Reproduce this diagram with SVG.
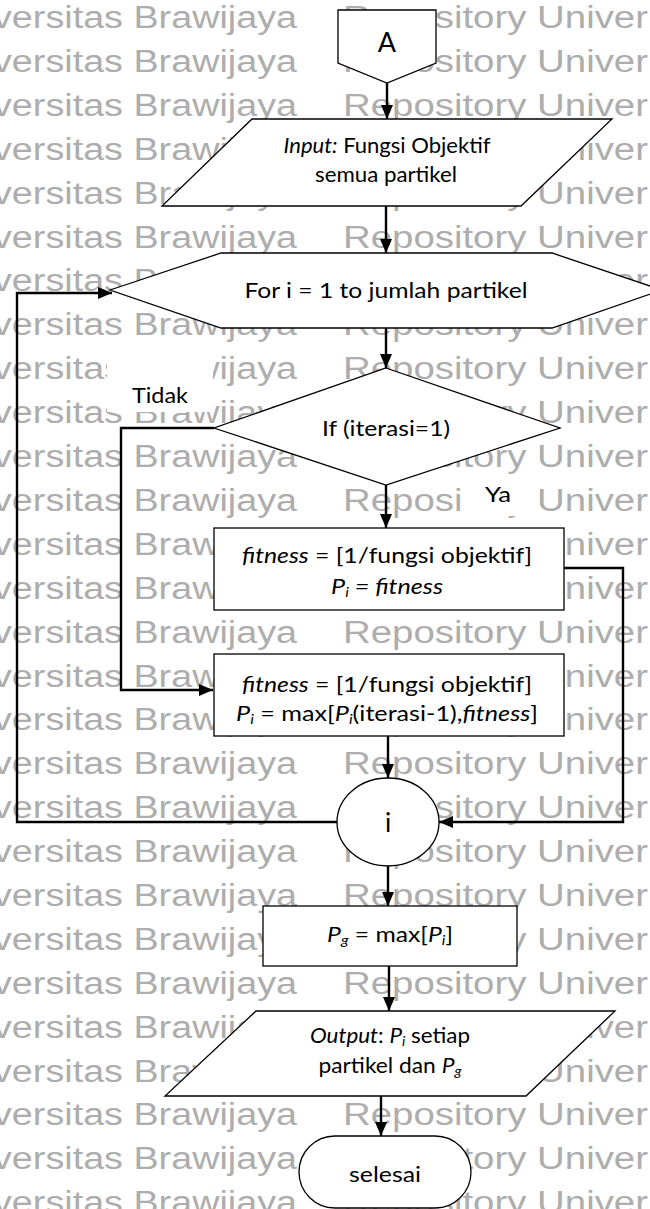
<svg xmlns="http://www.w3.org/2000/svg" width="650" height="1209" viewBox="0 0 650 1209">
  <defs>
    <marker id="arrow" markerUnits="userSpaceOnUse" markerWidth="14" markerHeight="12" viewBox="0 0 14 12" refX="14" refY="6" orient="auto">
      <path d="M0,0 L14,6 L0,12 z" fill="#000"/>
    </marker>
    <style>
      .wm { font-family: "Liberation Sans", Arial, sans-serif; font-size: 31px; fill: #adadad; }
      .shape { fill: #fff; stroke: #000; stroke-width: 1.3; }
      .lbl { font-family: Lato, "Open Sans", sans-serif; font-size: 22px; fill: #000; text-anchor: middle; }
      .it { font-style: italic; }
      .sub { font-size: 14px; }
      .conn { fill: none; stroke: #000; stroke-width: 2.4; }
      .bg { fill: #fff; }
    </style>
  </defs>

  <rect width="650" height="1209" fill="#fff"/>

  <!-- repeated background watermark rows -->
  <g id="watermark">
    <text class="wm" x="-7" y="28" textLength="304" lengthAdjust="spacingAndGlyphs">versitas Brawijaya</text><text class="wm" x="343" y="28" textLength="305" lengthAdjust="spacingAndGlyphs">Repository Univer</text>
    <text class="wm" x="-7" y="72" textLength="304" lengthAdjust="spacingAndGlyphs">versitas Brawijaya</text><text class="wm" x="343" y="72" textLength="305" lengthAdjust="spacingAndGlyphs">Repository Univer</text>
    <text class="wm" x="-7" y="116" textLength="304" lengthAdjust="spacingAndGlyphs">versitas Brawijaya</text><text class="wm" x="343" y="116" textLength="305" lengthAdjust="spacingAndGlyphs">Repository Univer</text>
    <text class="wm" x="-7" y="160" textLength="304" lengthAdjust="spacingAndGlyphs">versitas Brawijaya</text><text class="wm" x="343" y="160" textLength="305" lengthAdjust="spacingAndGlyphs">Repository Univer</text>
    <text class="wm" x="-7" y="204" textLength="304" lengthAdjust="spacingAndGlyphs">versitas Brawijaya</text><text class="wm" x="343" y="204" textLength="305" lengthAdjust="spacingAndGlyphs">Repository Univer</text>
    <text class="wm" x="-7" y="248" textLength="304" lengthAdjust="spacingAndGlyphs">versitas Brawijaya</text><text class="wm" x="343" y="248" textLength="305" lengthAdjust="spacingAndGlyphs">Repository Univer</text>
    <text class="wm" x="-7" y="291" textLength="304" lengthAdjust="spacingAndGlyphs">versitas Brawijaya</text><text class="wm" x="343" y="291" textLength="305" lengthAdjust="spacingAndGlyphs">Repository Univer</text>
    <text class="wm" x="-7" y="335" textLength="304" lengthAdjust="spacingAndGlyphs">versitas Brawijaya</text><text class="wm" x="343" y="335" textLength="305" lengthAdjust="spacingAndGlyphs">Repository Univer</text>
    <text class="wm" x="-7" y="379" textLength="304" lengthAdjust="spacingAndGlyphs">versitas Brawijaya</text><text class="wm" x="343" y="379" textLength="305" lengthAdjust="spacingAndGlyphs">Repository Univer</text>
    <text class="wm" x="-7" y="423" textLength="304" lengthAdjust="spacingAndGlyphs">versitas Brawijaya</text><text class="wm" x="343" y="423" textLength="305" lengthAdjust="spacingAndGlyphs">Repository Univer</text>
    <text class="wm" x="-7" y="467" textLength="304" lengthAdjust="spacingAndGlyphs">versitas Brawijaya</text><text class="wm" x="343" y="467" textLength="305" lengthAdjust="spacingAndGlyphs">Repository Univer</text>
    <text class="wm" x="-7" y="511" textLength="304" lengthAdjust="spacingAndGlyphs">versitas Brawijaya</text><text class="wm" x="343" y="511" textLength="305" lengthAdjust="spacingAndGlyphs">Repository Univer</text>
    <text class="wm" x="-7" y="555" textLength="304" lengthAdjust="spacingAndGlyphs">versitas Brawijaya</text><text class="wm" x="343" y="555" textLength="305" lengthAdjust="spacingAndGlyphs">Repository Univer</text>
    <text class="wm" x="-7" y="599" textLength="304" lengthAdjust="spacingAndGlyphs">versitas Brawijaya</text><text class="wm" x="343" y="599" textLength="305" lengthAdjust="spacingAndGlyphs">Repository Univer</text>
    <text class="wm" x="-7" y="643" textLength="304" lengthAdjust="spacingAndGlyphs">versitas Brawijaya</text><text class="wm" x="343" y="643" textLength="305" lengthAdjust="spacingAndGlyphs">Repository Univer</text>
    <text class="wm" x="-7" y="687" textLength="304" lengthAdjust="spacingAndGlyphs">versitas Brawijaya</text><text class="wm" x="343" y="687" textLength="305" lengthAdjust="spacingAndGlyphs">Repository Univer</text>
    <text class="wm" x="-7" y="730" textLength="304" lengthAdjust="spacingAndGlyphs">versitas Brawijaya</text><text class="wm" x="343" y="730" textLength="305" lengthAdjust="spacingAndGlyphs">Repository Univer</text>
    <text class="wm" x="-7" y="774" textLength="304" lengthAdjust="spacingAndGlyphs">versitas Brawijaya</text><text class="wm" x="343" y="774" textLength="305" lengthAdjust="spacingAndGlyphs">Repository Univer</text>
    <text class="wm" x="-7" y="818" textLength="304" lengthAdjust="spacingAndGlyphs">versitas Brawijaya</text><text class="wm" x="343" y="818" textLength="305" lengthAdjust="spacingAndGlyphs">Repository Univer</text>
    <text class="wm" x="-7" y="862" textLength="304" lengthAdjust="spacingAndGlyphs">versitas Brawijaya</text><text class="wm" x="343" y="862" textLength="305" lengthAdjust="spacingAndGlyphs">Repository Univer</text>
    <text class="wm" x="-7" y="906" textLength="304" lengthAdjust="spacingAndGlyphs">versitas Brawijaya</text><text class="wm" x="343" y="906" textLength="305" lengthAdjust="spacingAndGlyphs">Repository Univer</text>
    <text class="wm" x="-7" y="950" textLength="304" lengthAdjust="spacingAndGlyphs">versitas Brawijaya</text><text class="wm" x="343" y="950" textLength="305" lengthAdjust="spacingAndGlyphs">Repository Univer</text>
    <text class="wm" x="-7" y="994" textLength="304" lengthAdjust="spacingAndGlyphs">versitas Brawijaya</text><text class="wm" x="343" y="994" textLength="305" lengthAdjust="spacingAndGlyphs">Repository Univer</text>
    <text class="wm" x="-7" y="1038" textLength="304" lengthAdjust="spacingAndGlyphs">versitas Brawijaya</text><text class="wm" x="343" y="1038" textLength="305" lengthAdjust="spacingAndGlyphs">Repository Univer</text>
    <text class="wm" x="-7" y="1082" textLength="304" lengthAdjust="spacingAndGlyphs">versitas Brawijaya</text><text class="wm" x="343" y="1082" textLength="305" lengthAdjust="spacingAndGlyphs">Repository Univer</text>
    <text class="wm" x="-7" y="1125" textLength="304" lengthAdjust="spacingAndGlyphs">versitas Brawijaya</text><text class="wm" x="343" y="1125" textLength="305" lengthAdjust="spacingAndGlyphs">Repository Univer</text>
    <text class="wm" x="-7" y="1169" textLength="304" lengthAdjust="spacingAndGlyphs">versitas Brawijaya</text><text class="wm" x="343" y="1169" textLength="305" lengthAdjust="spacingAndGlyphs">Repository Univer</text>
    <text class="wm" x="-7" y="1213" textLength="304" lengthAdjust="spacingAndGlyphs">versitas Brawijaya</text><text class="wm" x="343" y="1213" textLength="305" lengthAdjust="spacingAndGlyphs">Repository Univer</text>
  </g>

  <!-- connectors with their branch labels -->
  <g id="connectors">
    <rect class="bg" x="107" y="355" width="106" height="57"/>
    <rect class="bg" x="461" y="478" width="72" height="38"/>
    <path class="conn" d="M387,83 L387,119" marker-end="url(#arrow)"/>
    <path class="conn" d="M386,206 L386,253" marker-end="url(#arrow)"/>
    <path class="conn" d="M386,328 L386,368" marker-end="url(#arrow)"/>
    <path class="conn" d="M386,485 L386,528" marker-end="url(#arrow)"/>
    <path class="conn" d="M214,428 L121,428 L121,690 L213,690" marker-end="url(#arrow)"/>
    <path class="conn" d="M564,568 L623,568 L623,822 L439,822" marker-end="url(#arrow)"/>
    <path class="conn" d="M388,736 L388,778" marker-end="url(#arrow)"/>
    <path class="conn" d="M337,822 L17,822 L17,293 L112,293" marker-end="url(#arrow)"/>
    <path class="conn" d="M388,866 L388,906" marker-end="url(#arrow)"/>
    <path class="conn" d="M389,966 L389,1011" marker-end="url(#arrow)"/>
    <path class="conn" d="M381,1096 L381,1136" marker-end="url(#arrow)"/>
    <text class="lbl" x="160" y="403" textLength="56" lengthAdjust="spacingAndGlyphs">Tidak</text>
    <text class="lbl" x="498" y="502" textLength="26" lengthAdjust="spacingAndGlyphs">Ya</text>
  </g>

  <g id="connector-a">
    <path class="shape" d="M338,10 L436,10 L436,63 L387,83 L338,63 Z"/>
    <text class="lbl" x="387" y="52" style="font-size:27px">A</text>
  </g>

  <g id="input">
    <path class="shape" d="M252,119 L612,119 L521,206 L162,206 Z"/>
    <text class="lbl" x="387" y="153" textLength="207" lengthAdjust="spacingAndGlyphs"><tspan class="it">Input:</tspan> Fungsi Objektif</text>
    <text class="lbl" x="386" y="182" textLength="142" lengthAdjust="spacingAndGlyphs">semua partikel</text>
  </g>

  <g id="loop">
    <path class="shape" d="M110,290 L221,253 L552,253 L662,290 L552,328 L221,328 Z"/>
    <text class="lbl" x="386" y="298" textLength="283" lengthAdjust="spacingAndGlyphs">For i = 1 to jumlah partikel</text>
  </g>

  <g id="decision">
    <path class="shape" d="M386,368 L560,428 L386,485 L214,428 Z"/>
    <text class="lbl" x="386" y="436" textLength="128" lengthAdjust="spacingAndGlyphs">If (iterasi=1)</text>
  </g>

  <g id="first-iteration">
    <rect class="shape" x="214" y="528" width="350" height="82"/>
    <text class="lbl" x="387" y="563" textLength="290" lengthAdjust="spacingAndGlyphs"><tspan class="it">fitness</tspan> = [1/fungsi objektif]</text>
    <text class="lbl it" x="387" y="594" textLength="112" lengthAdjust="spacingAndGlyphs">P<tspan class="sub" dy="3">i</tspan><tspan dy="-3"> = fitness</tspan></text>
  </g>

  <g id="next-iteration">
    <rect class="shape" x="214" y="654" width="350" height="82"/>
    <text class="lbl" x="387" y="692" textLength="290" lengthAdjust="spacingAndGlyphs"><tspan class="it">fitness</tspan> = [1/fungsi objektif]</text>
    <text class="lbl" x="387" y="721" textLength="302" lengthAdjust="spacingAndGlyphs"><tspan class="it">P</tspan><tspan class="sub it" dy="3">i</tspan><tspan dy="-3"> = max[</tspan><tspan class="it">P</tspan><tspan class="sub it" dy="3">i</tspan><tspan dy="-3">(iterasi-1),</tspan><tspan class="it">fitness</tspan>]</text>
  </g>

  <g id="counter">
    <ellipse class="shape" cx="388" cy="822" rx="51" ry="44"/>
    <text class="lbl" x="388" y="832" style="font-size:26px">i</text>
  </g>

  <g id="global-best">
    <rect class="shape" x="263" y="906" width="254" height="60"/>
    <text class="lbl" x="390" y="942" textLength="126" lengthAdjust="spacingAndGlyphs"><tspan class="it">P</tspan><tspan class="sub it" dy="3">g</tspan><tspan dy="-3"> = max[</tspan><tspan class="it">P</tspan><tspan class="sub it" dy="3">i</tspan><tspan dy="-3">]</tspan></text>
  </g>

  <g id="output">
    <path class="shape" d="M256,1011 L615,1011 L526,1096 L165,1096 Z"/>
    <text class="lbl" x="390" y="1043" textLength="160" lengthAdjust="spacingAndGlyphs"><tspan class="it">Output</tspan>: <tspan class="it">P</tspan><tspan class="sub it" dy="3">i</tspan><tspan dy="-3"> setiap</tspan></text>
    <text class="lbl" x="390" y="1073" textLength="143" lengthAdjust="spacingAndGlyphs">partikel dan <tspan class="it">P</tspan><tspan class="sub it" dy="3">g</tspan></text>
  </g>

  <g id="finish">
    <rect class="shape" x="299" y="1136" width="172" height="72" rx="36" ry="36"/>
    <text class="lbl" x="385" y="1182" textLength="72" lengthAdjust="spacingAndGlyphs">selesai</text>
  </g>
</svg>
